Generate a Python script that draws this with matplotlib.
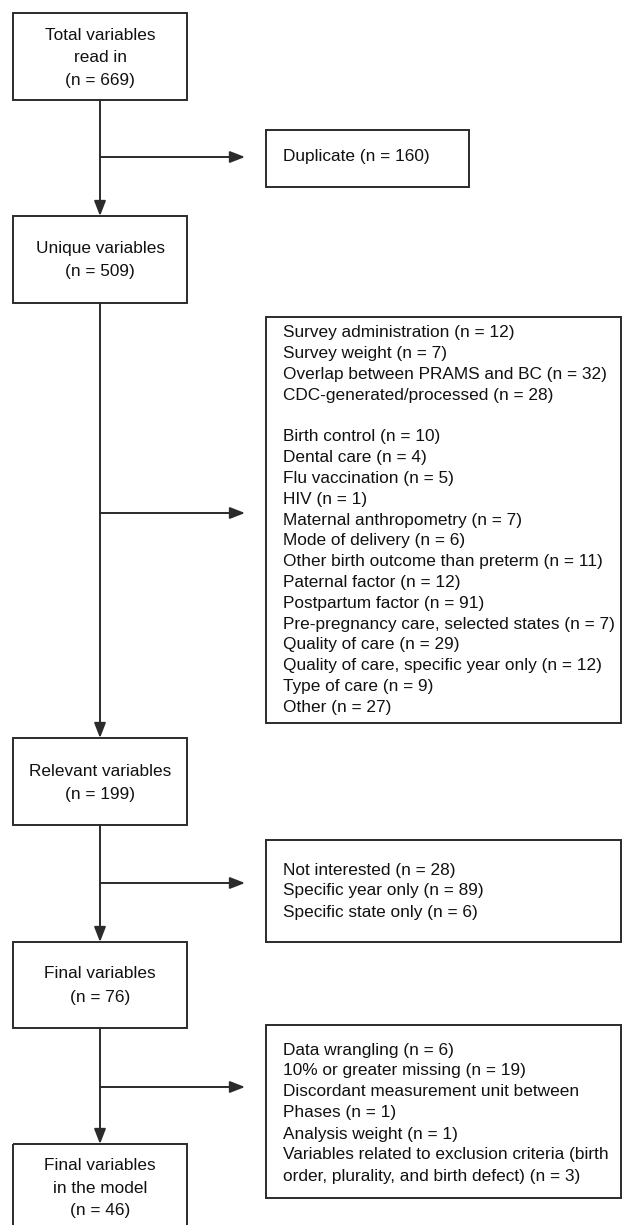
import matplotlib
matplotlib.use("Agg")
import matplotlib.pyplot as plt
from matplotlib.patches import Rectangle

plt.rcParams["font.family"] = ["Liberation Sans", "DejaVu Sans"]

# main flow boxes (top to bottom)
main_boxes = [
    ["Total variables", "read in", "(n = 669)"],
    ["Unique variables", "(n = 509)"],
    ["Relevant variables", "(n = 199)"],
    ["Final variables", "(n = 76)"],
    ["Final variables", "in the model", "(n = 46)"],
]

# exclusion boxes on the right
duplicate = ["Duplicate (n = 160)"]
irrelevant = [
    "Survey administration (n = 12)",
    "Survey weight (n = 7)",
    "Overlap between PRAMS and BC (n = 32)",
    "CDC-generated/processed (n = 28)",
    "",
    "Birth control (n = 10)",
    "Dental care (n = 4)",
    "Flu vaccination (n = 5)",
    "HIV (n = 1)",
    "Maternal anthropometry (n = 7)",
    "Mode of delivery (n = 6)",
    "Other birth outcome than preterm (n = 11)",
    "Paternal factor (n = 12)",
    "Postpartum factor (n = 91)",
    "Pre-pregnancy care, selected states (n = 7)",
    "Quality of care (n = 29)",
    "Quality of care, specific year only (n = 12)",
    "Type of care (n = 9)",
    "Other (n = 27)",
]
not_final = [
    "Not interested (n = 28)",
    "Specific year only (n = 89)",
    "Specific state only (n = 6)",
]
not_model = [
    "Data wrangling (n = 6)",
    "10% or greater missing (n = 19)",
    "Discordant measurement unit between",
    "Phases (n = 1)",
    "Analysis weight (n = 1)",
    "Variables related to exclusion criteria (birth",
    "order, plurality, and birth defect) (n = 3)",
]
side_boxes = [duplicate, irrelevant, not_final, not_model]

W, H = 622, 1225
fig = plt.figure(figsize=(W / 100, H / 100), dpi=100)
ax = fig.add_axes([0, 0, 1, 1])
ax.set_xlim(0, W)
ax.set_ylim(H, 0)
ax.axis("off")

edge = "#2b2b2b"
lw = 1.4
fs = 12.4

# layout in pixels
main_x0, main_x1 = 13, 187
cx = (main_x0 + main_x1) / 2
main_y = [(13, 100), (216, 303), (738, 825), (942, 1028), (1144, 1240)]
main_text_y = [(35, 23), (248, 23.5), (771, 23.5), (974, 23.5), (1166, 22.5)]

side_x0, side_x1 = 266, 621
side_y = [(130, 187), (317, 723), (840, 942), (1025, 1198)]
side_text_y = [(157, 21), (333, 20.8), (870, 21), (1050, 21)]
side_right = [469, side_x1, side_x1, side_x1]
branch_y = [157, 513, 883, 1087]

for (y0, y1), lines, (ty, pitch) in zip(main_y, main_boxes, main_text_y):
    ax.add_patch(Rectangle((main_x0, y0), main_x1 - main_x0, y1 - y0,
                           fill=False, edgecolor=edge, linewidth=lw))
    for i, s in enumerate(lines):
        ax.text(cx, ty + i * pitch, s, ha="center", va="center",
                fontsize=fs, color="#111111")

for (y0, y1), x1, lines, (ty, pitch) in zip(side_y, side_right, side_boxes, side_text_y):
    ax.add_patch(Rectangle((side_x0, y0), x1 - side_x0, y1 - y0,
                           fill=False, edgecolor=edge, linewidth=lw))
    for i, s in enumerate(lines):
        ax.text(283, ty + i * pitch, s, ha="left", va="center",
                fontsize=fs, color="#111111")

arrow = dict(arrowstyle="-|>,head_length=0.9,head_width=0.35",
             color=edge, lw=lw, shrinkA=0, shrinkB=0)

# vertical connectors
for (a0, a1), (b0, b1) in zip(main_y[:-1], main_y[1:]):
    ax.annotate("", xy=(cx, b0), xytext=(cx, a1), arrowprops=arrow)

# branches to exclusion boxes
for by in branch_y:
    ax.annotate("", xy=(245, by), xytext=(cx, by), arrowprops=arrow)

fig.savefig("out.png", dpi=100, facecolor="white")
